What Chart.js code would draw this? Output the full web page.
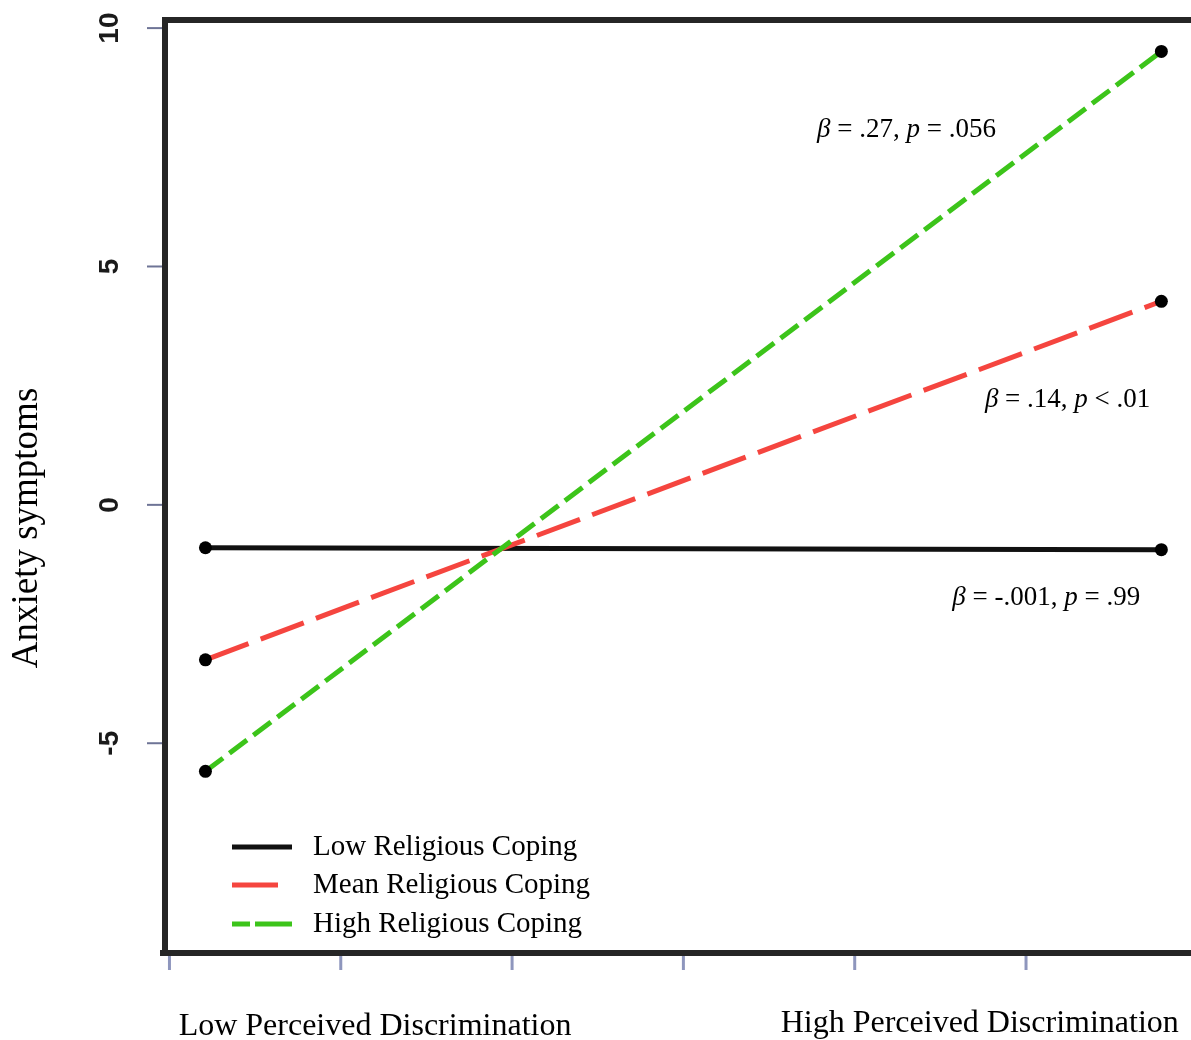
<!DOCTYPE html>
<html>
<head>
<meta charset="utf-8">
<title>Anxiety symptoms by perceived discrimination and religious coping</title>
<script src="https://cdn.jsdelivr.net/npm/chart.js@4.4.1/dist/chart.umd.min.js"></script>
<style>
    body { margin: 0; background: #ffffff; }
    canvas { display: block; }
</style>
</head>
<body>
<canvas id="chart" width="1191" height="1040"></canvas>
<script>
// values
const groupLabels = ['Low Religious Coping', 'Mean Religious Coping', 'High Religious Coping'];
const xPositions = [0.21, 5.79];          // low / high perceived discrimination
const lowCoping = [-0.90, -0.94];
const meanCoping = [-3.25, 4.27];
const highCoping = [-5.59, 9.51];
const yTicks = [-5, 0, 5, 10];
const xTicks = [0, 1, 2, 3, 4, 5];
const xEndLabels = ['Low Perceived Discrimination', 'High Perceived Discrimination'];
const xEndLabelPos = [1.2, 4.73];

// slope annotations
const noteX = [3.78, 4.76, 4.57];
const noteY = [7.87, 2.20, -1.95];
const noteBeta = ['.27', '.14', '-.001'];
const noteP = ['= .056', '< .01', '= .99'];

const serif = '"Liberation Serif", "Times New Roman", serif';
const sans = '"Liberation Sans", Arial, sans-serif';

const lineColors = ['#111111', '#f5453f', '#3cc41a'];
const lineDashes = [[], [46, 13], [22, 8]];

function toPoints(values) {
    return xPositions.map((x, i) => ({ x: x, y: values[i] }));
}

// draws the R style box, ticks, texts and legend
const decorations = {
    id: 'decorations',
    afterDraw(chart) {
        const ctx = chart.ctx;
        const area = chart.chartArea;
        const xs = chart.scales.x;
        const ys = chart.scales.y;
        ctx.save();

        // box
        ctx.strokeStyle = '#262626';
        ctx.lineWidth = 6;
        ctx.beginPath();
        ctx.moveTo(area.right + 5, area.top);
        ctx.lineTo(area.left, area.top);
        ctx.lineTo(area.left, area.bottom);
        ctx.moveTo(area.left - 5, area.bottom);
        ctx.lineTo(area.right + 5, area.bottom);
        ctx.stroke();

        // y ticks
        ctx.strokeStyle = '#6e7496';
        ctx.lineWidth = 2;
        ctx.fillStyle = '#1a1a1a';
        ctx.font = 'bold 28px ' + sans;
        ctx.textAlign = 'center';
        ctx.textBaseline = 'middle';
        yTicks.forEach(v => {
            const py = ys.getPixelForValue(v);
            ctx.beginPath();
            ctx.moveTo(area.left - 18, py);
            ctx.lineTo(area.left - 3, py);
            ctx.stroke();
            ctx.save();
            ctx.translate(area.left - 55, py);
            ctx.rotate(-Math.PI / 2);
            ctx.fillText(String(v), 0, 0);
            ctx.restore();
        });

        // x ticks
        ctx.strokeStyle = '#8e96bd';
        ctx.lineWidth = 3;
        xTicks.forEach(v => {
            const px = xs.getPixelForValue(v);
            ctx.beginPath();
            ctx.moveTo(px, area.bottom + 3);
            ctx.lineTo(px, area.bottom + 17);
            ctx.stroke();
        });

        // x end labels
        ctx.fillStyle = '#000000';
        ctx.font = '32px ' + serif;
        ctx.textBaseline = 'alphabetic';
        xEndLabels.forEach((t, i) => {
            ctx.fillText(t, xs.getPixelForValue(xEndLabelPos[i]), area.bottom + (i === 0 ? 82 : 79));
        });

        // y title
        ctx.save();
        ctx.translate(27, 528);
        ctx.rotate(-Math.PI / 2);
        ctx.font = '37px ' + serif;
        ctx.textBaseline = 'middle';
        ctx.fillText('Anxiety symptoms', 0, 0);
        ctx.restore();

        // slope notes
        ctx.textAlign = 'left';
        ctx.textBaseline = 'middle';
        noteX.forEach((nx, i) => {
            let px = xs.getPixelForValue(nx);
            const py = ys.getPixelForValue(noteY[i]);
            const parts = [
                ['italic ', 'β'],
                ['', ' = ' + noteBeta[i] + ', '],
                ['italic ', 'p'],
                ['', ' ' + noteP[i]]
            ];
            parts.forEach(p => {
                ctx.font = p[0] + '27px ' + serif;
                ctx.fillText(p[1], px, py);
                px += ctx.measureText(p[1]).width;
            });
        });

        // legend
        const legendRows = [847, 885, 924];
        const sampleDash = [[], [46, 40], [18, 5, 40, 5]];
        groupLabels.forEach((label, i) => {
            const y = legendRows[i];
            ctx.strokeStyle = lineColors[i];
            ctx.lineWidth = 5;
            ctx.setLineDash(sampleDash[i]);
            ctx.beginPath();
            ctx.moveTo(area.left + 67, y);
            ctx.lineTo(area.left + 127, y);
            ctx.stroke();
            ctx.setLineDash([]);
            ctx.fillStyle = '#000000';
            ctx.font = '29px ' + serif;
            ctx.fillText(label, area.left + 148, y);
        });

        ctx.restore();
    }
};

const ctx = document.getElementById('chart').getContext('2d');
const chart = new Chart(ctx, {
    type: 'line',
    data: {
        datasets: [
            { label: groupLabels[0], data: toPoints(lowCoping), order: 3 },
            { label: groupLabels[1], data: toPoints(meanCoping), order: 2 },
            { label: groupLabels[2], data: toPoints(highCoping), order: 1 }
        ].map((d, i) => Object.assign(d, {
            borderColor: lineColors[i],
            borderWidth: 5,
            borderDash: lineDashes[i],
            borderCapStyle: 'butt',
            tension: 0,
            fill: false,
            pointRadius: 6.5,
            pointBackgroundColor: '#000000',
            pointBorderColor: '#000000',
            pointBorderWidth: 0,
            clip: false
        }))
    },
    options: {
        responsive: false,
        animation: false,
        layout: {
            autoPadding: false,
            padding: { left: 165, right: 0, top: 20, bottom: 87 }
        },
        scales: {
            x: { type: 'linear', min: -0.026, max: 5.963, display: false },
            y: { type: 'linear', min: -9.40, max: 10.17, display: false }
        },
        plugins: {
            legend: { display: false },
            tooltip: { enabled: false }
        }
    },
    plugins: [decorations]
});
</script>
</body>
</html>
